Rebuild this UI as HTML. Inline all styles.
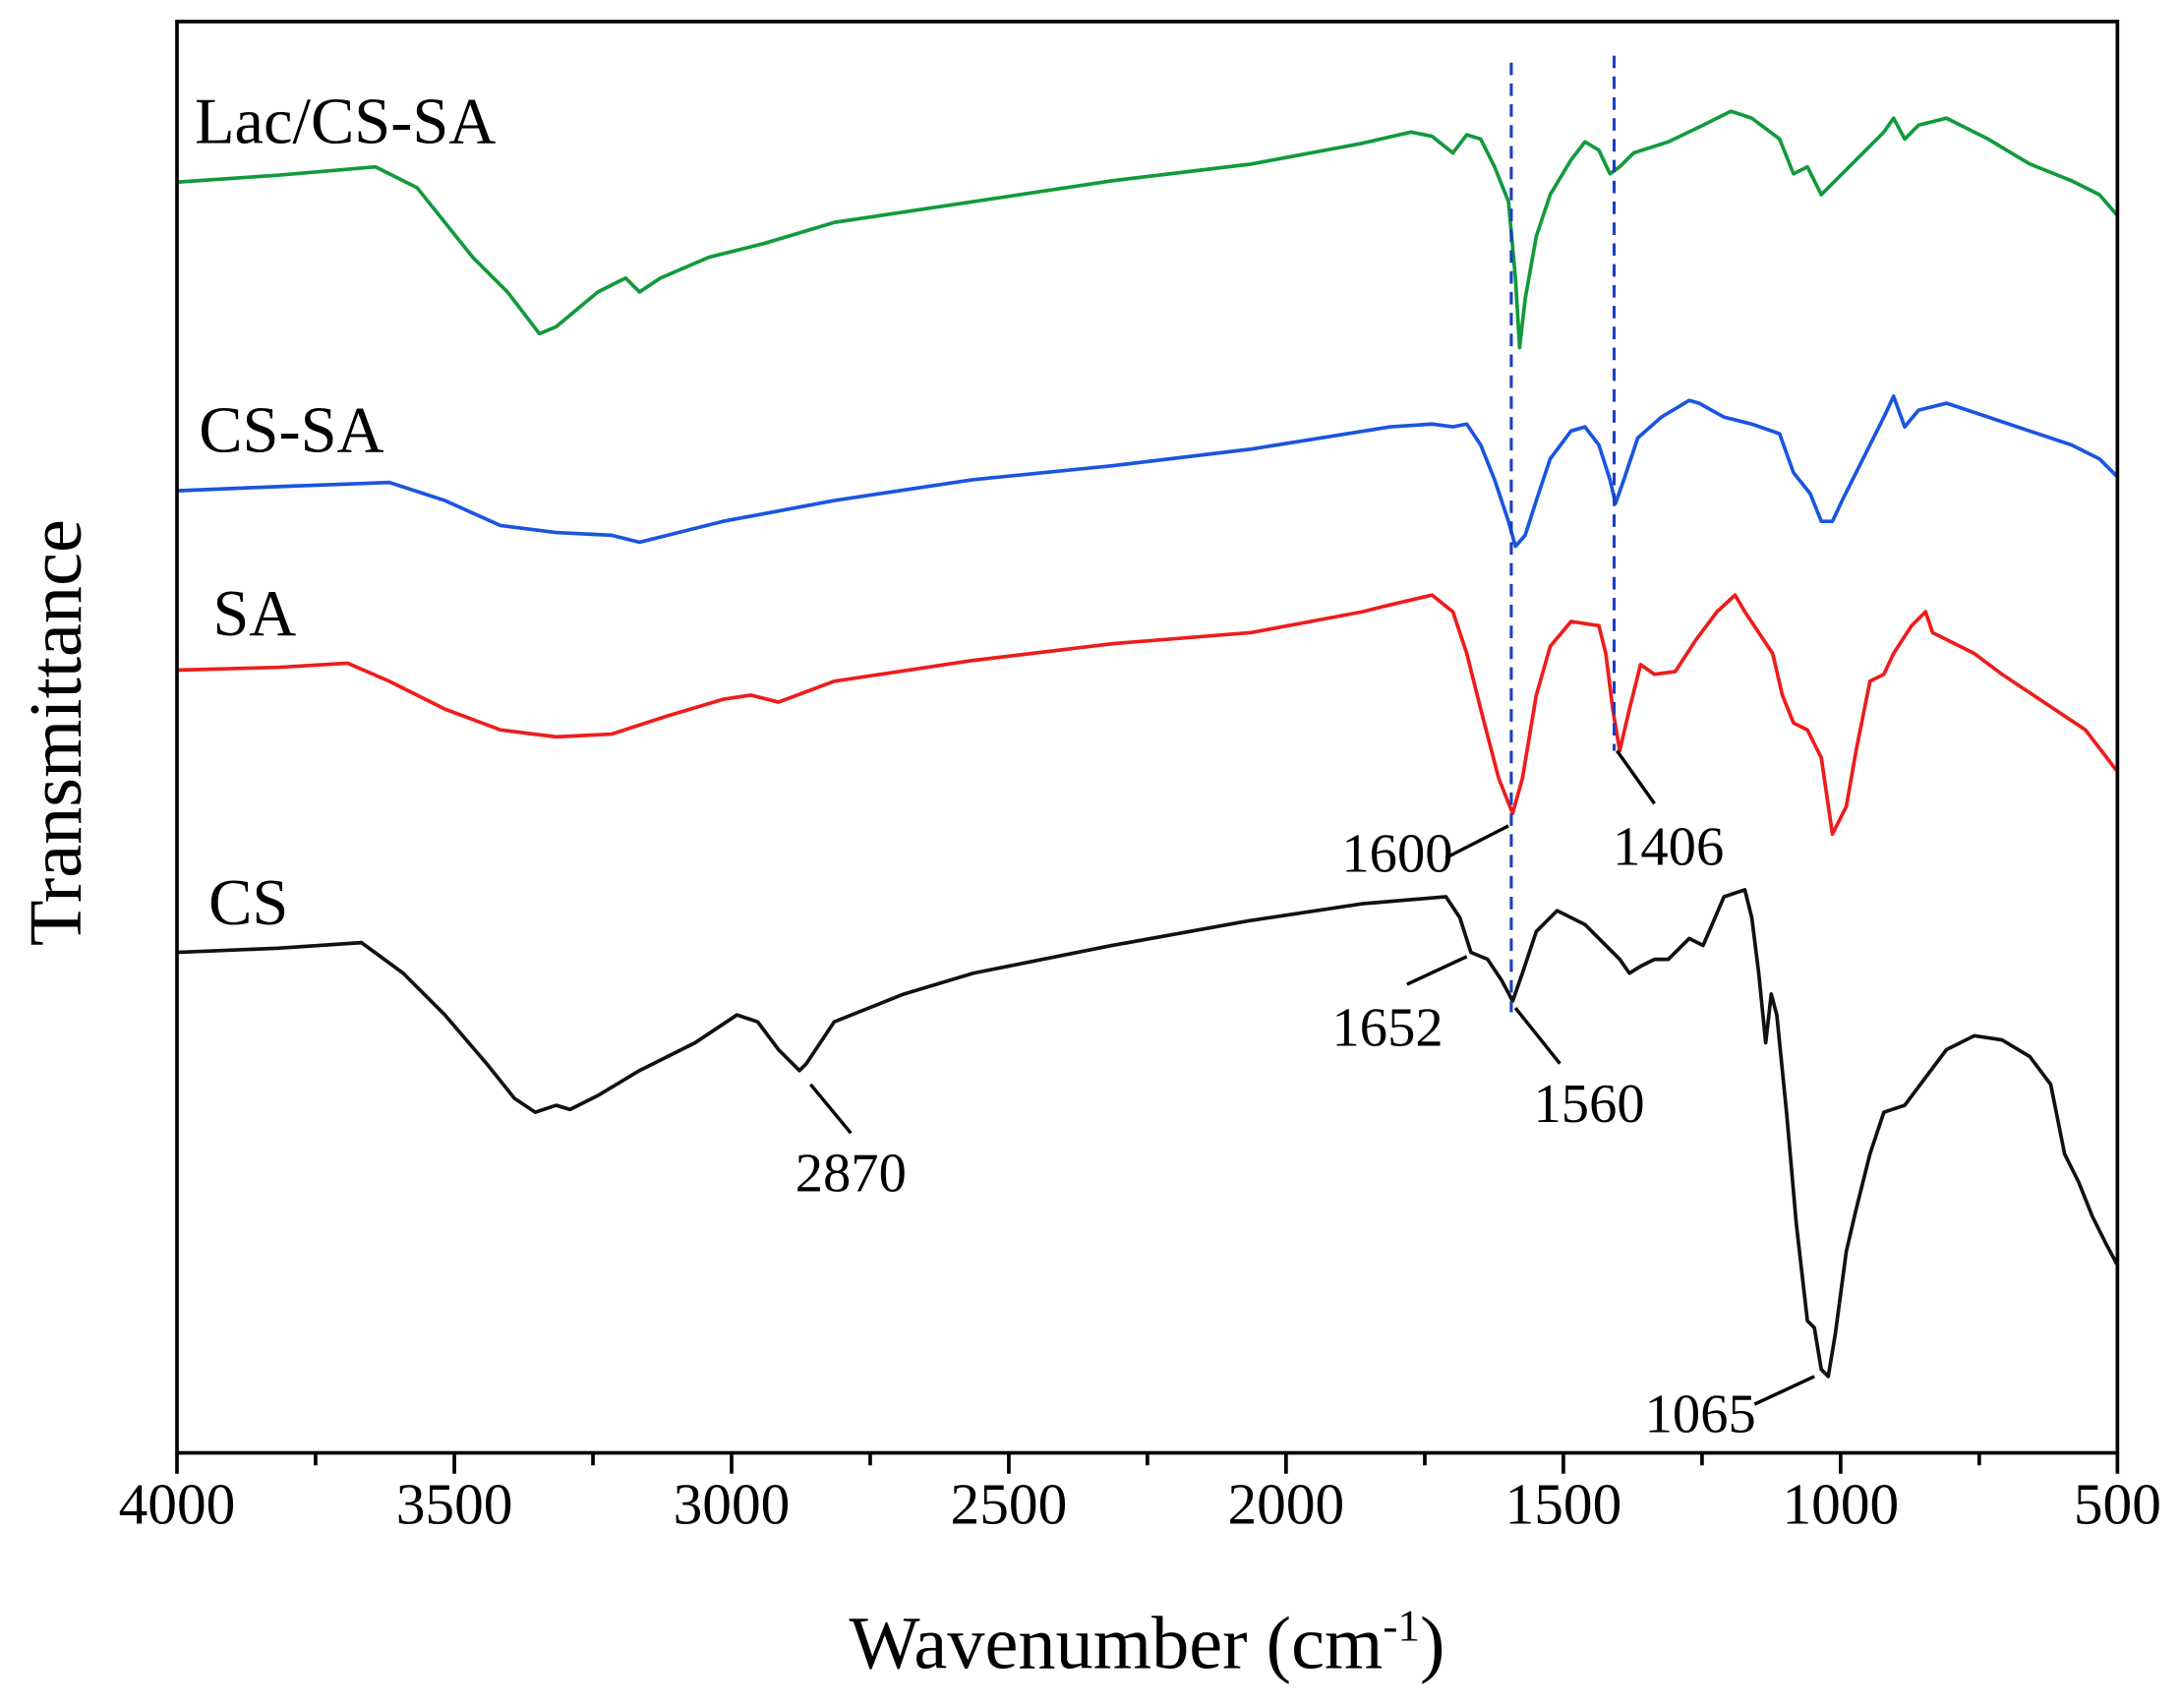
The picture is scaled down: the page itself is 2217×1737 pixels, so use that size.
<!DOCTYPE html>
<html><head><meta charset="utf-8"><style>html,body{margin:0;padding:0;background:#fff;}svg{display:block;}</style></head>
<body>
<svg width="2217" height="1737" viewBox="0 0 1568 1228.5" xmlns="http://www.w3.org/2000/svg" font-family="'Liberation Serif', serif">
<rect x="0" y="0" width="1568" height="1228.5" fill="#fff"/>
<g fill="none" stroke-width="2.6" stroke-linejoin="round">
<polyline stroke="#119a3c" points="127,131 200,126 270,120 300,135 320,160 340,185 365,210 388,240 400,235 430,210 450,200 460,210 475,200 510,185 550,175 600,160 700,145 800,130 900,118 980,103 1015,95 1030,98 1045,110 1055,97 1065,100 1075,120 1085,145 1090,200 1093,250 1097,215 1105,170 1115,140 1130,115 1140,102 1150,108 1158,125 1165,120 1175,110 1200,102 1225,90 1245,80 1260,85 1280,100 1290,125 1300,120 1310,140 1320,130 1340,110 1355,95 1362,85 1370,100 1380,90 1400,85 1430,100 1460,118 1490,130 1510,140 1523,155"/>
<polyline stroke="#1a55e0" points="127,353 200,350 280,347 320,360 360,378 400,383 440,385 460,390 480,385 520,375 600,360 700,345 800,335 900,323 1000,307 1030,305 1045,307 1055,305 1065,320 1075,345 1085,375 1090,393 1097,385 1105,360 1115,330 1130,310 1140,307 1150,320 1158,345 1162,362 1168,345 1178,315 1195,300 1215,288 1222,290 1240,300 1260,305 1280,312 1290,340 1302,355 1310,375 1318,375 1325,360 1340,330 1355,300 1362,285 1370,307 1380,295 1400,290 1430,300 1460,310 1490,320 1510,330 1523,343"/>
<polyline stroke="#ee1c1c" points="127,482 200,480 250,477 280,490 320,510 360,525 400,530 440,528 480,515 520,503 540,500 560,505 600,490 700,475 800,463 900,455 980,440 1000,435 1030,428 1045,440 1055,470 1065,510 1078,560 1088,585 1095,560 1105,500 1115,465 1130,447 1150,450 1155,470 1160,510 1165,540 1172,510 1180,478 1190,485 1205,483 1220,460 1235,440 1248,428 1255,440 1265,455 1275,470 1282,500 1290,520 1300,525 1310,545 1318,600 1328,580 1335,540 1345,490 1355,485 1362,470 1375,450 1385,440 1390,455 1400,460 1420,470 1440,485 1470,505 1500,525 1523,555"/>
<polyline stroke="#111" points="127,685 200,682 260,678 290,700 320,730 350,765 370,790 385,800 400,795 410,798 430,788 460,770 500,750 530,730 545,735 560,755 575,770 580,765 600,735 650,715 700,700 800,680 900,662 980,650 1040,645 1050,660 1058,685 1070,690 1080,705 1088,720 1095,700 1105,670 1120,655 1140,665 1155,680 1165,690 1172,700 1180,695 1190,690 1200,690 1215,675 1225,680 1240,645 1255,640 1260,660 1265,700 1270,750 1274,715 1278,730 1285,800 1292,880 1300,950 1305,955 1310,985 1315,990 1320,960 1328,900 1335,870 1345,830 1355,800 1370,795 1385,775 1400,755 1420,745 1440,748 1460,760 1475,780 1485,830 1495,850 1505,875 1515,895 1523,910"/>
</g>
<g stroke="#1a3fc0" stroke-width="2.2" stroke-dasharray="9,6">
<line x1="1087" y1="45" x2="1087" y2="728"/>
<line x1="1161" y1="40" x2="1161" y2="540"/>
</g>
<g stroke="#000" stroke-width="2.4">
<line x1="1040" y1="617" x2="1085" y2="594"/>
<line x1="1163" y1="540" x2="1190" y2="578"/>
<line x1="1012" y1="708" x2="1055" y2="688"/>
<line x1="1090" y1="725" x2="1122" y2="765"/>
<line x1="583" y1="780" x2="612" y2="815"/>
<line x1="1262" y1="1010" x2="1305" y2="990"/>
</g>
<g font-size="40" fill="#000">
<text x="965" y="627">1600</text>
<text x="1160" y="622">1406</text>
<text x="958" y="752">1652</text>
<text x="1103" y="807">1560</text>
<text x="572" y="857">2870</text>
<text x="1183" y="1030">1065</text>
</g>
<g font-size="47" fill="#000">
<text x="140" y="103">Lac/CS-SA</text>
<text x="143" y="325">CS-SA</text>
<text x="153" y="457">SA</text>
<text x="150" y="665">CS</text>
</g>
<rect x="127.3" y="15.5" width="1395.7" height="1029.5" fill="none" stroke="#000" stroke-width="2.6"/>
<g stroke="#000" stroke-width="2.6">
<line x1="127.3" y1="1045" x2="127.3" y2="1060"/>
<line x1="227" y1="1045" x2="227" y2="1054"/>
<line x1="326.8" y1="1045" x2="326.8" y2="1060"/>
<line x1="426.5" y1="1045" x2="426.5" y2="1054"/>
<line x1="526.2" y1="1045" x2="526.2" y2="1060"/>
<line x1="625.9" y1="1045" x2="625.9" y2="1054"/>
<line x1="725.6" y1="1045" x2="725.6" y2="1060"/>
<line x1="825.3" y1="1045" x2="825.3" y2="1054"/>
<line x1="925" y1="1045" x2="925" y2="1060"/>
<line x1="1024.8" y1="1045" x2="1024.8" y2="1054"/>
<line x1="1124.5" y1="1045" x2="1124.5" y2="1060"/>
<line x1="1224.2" y1="1045" x2="1224.2" y2="1054"/>
<line x1="1323.9" y1="1045" x2="1323.9" y2="1060"/>
<line x1="1423.6" y1="1045" x2="1423.6" y2="1054"/>
<line x1="1523" y1="1045" x2="1523" y2="1060"/>
</g>
<g font-size="42" fill="#000" text-anchor="middle">
<text x="127.3" y="1096">4000</text>
<text x="326.8" y="1096">3500</text>
<text x="526.2" y="1096">3000</text>
<text x="725.6" y="1096">2500</text>
<text x="925" y="1096">2000</text>
<text x="1124.5" y="1096">1500</text>
<text x="1323.9" y="1096">1000</text>
<text x="1523" y="1096">500</text>
</g>
<text x="825" y="1200" font-size="54" text-anchor="middle" fill="#000">Wavenumber (cm<tspan font-size="32" dy="-20">-1</tspan><tspan dy="20">)</tspan></text>
<text transform="translate(58,527) rotate(-90)" font-size="54" text-anchor="middle" fill="#000">Transmittance</text>
</svg>
</body></html>
